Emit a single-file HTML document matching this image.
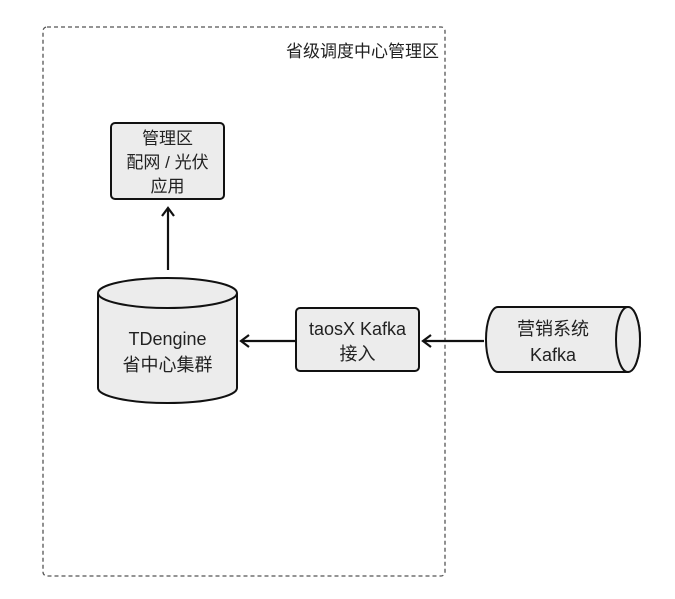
<!DOCTYPE html>
<html><head><meta charset="utf-8"><style>
body{margin:0;background:#fff;width:675px;height:594px;overflow:hidden}
text{font-family:"Liberation Sans","Noto Sans CJK SC",sans-serif;fill:#222}
</style></head><body>
<svg width="675" height="594" viewBox="0 0 675 594">
<rect x="43" y="27" width="402" height="549" rx="4" fill="none" stroke="#555" stroke-width="1.3" stroke-dasharray="4,3"/>
<text x="439" y="57" font-size="17" text-anchor="end">省级调度中心管理区</text>
<rect x="111" y="123" width="113" height="76" rx="4" fill="#ececec" stroke="#111" stroke-width="2"/>
<text x="167.5" y="144" font-size="17" text-anchor="middle">管理区</text>
<text x="167.5" y="168" font-size="17" text-anchor="middle">配网 / 光伏</text>
<text x="167.5" y="192" font-size="17" text-anchor="middle">应用</text>
<path d="M98 293 L98 388 A69.5 15 0 0 0 237 388 L237 293" fill="#ececec" stroke="#111" stroke-width="2"/>
<ellipse cx="167.5" cy="293" rx="69.5" ry="15" fill="#ececec" stroke="#111" stroke-width="2"/>
<text x="167.5" y="345" font-size="18" text-anchor="middle">TDengine</text>
<text x="167.5" y="371" font-size="18" text-anchor="middle">省中心集群</text>
<rect x="296" y="308" width="123" height="63" rx="4" fill="#ececec" stroke="#111" stroke-width="2"/>
<text x="357.5" y="335" font-size="18" text-anchor="middle">taosX Kafka</text>
<text x="357.5" y="360" font-size="18" text-anchor="middle">接入</text>
<path d="M498 307 L628 307 A12 32.5 0 0 1 628 372 L498 372 A12 32.5 0 0 1 498 307 Z" fill="#ececec" stroke="#111" stroke-width="2"/>
<ellipse cx="628" cy="339.5" rx="12" ry="32.5" fill="#ececec" stroke="#111" stroke-width="2"/>
<text x="553" y="335" font-size="18" text-anchor="middle">营销系统</text>
<text x="553" y="361" font-size="18" text-anchor="middle">Kafka</text>
<g stroke="#111" stroke-width="2.2" fill="none">
<line x1="168" y1="270" x2="168" y2="209"/><polyline points="162,216 168,208 174,216"/>
<line x1="296" y1="341" x2="242" y2="341"/><polyline points="249,335 241,341 249,347"/>
<line x1="484" y1="341" x2="424" y2="341"/><polyline points="431,335 423,341 431,347"/>
</g>
</svg>
</body></html>
